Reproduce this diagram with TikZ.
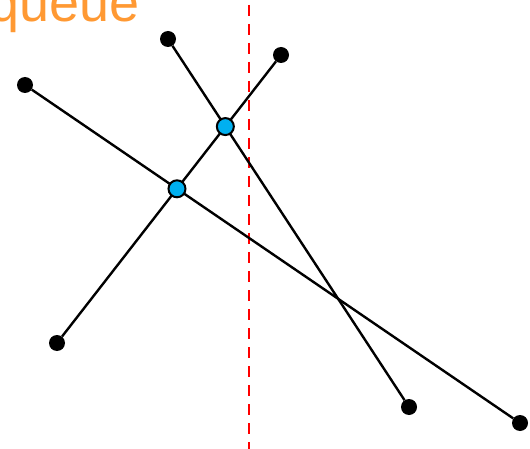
\documentclass[tikz,border=0pt]{standalone}
\usepackage{fontspec}
\setmainfont{Liberation Sans}
\definecolor{queueorange}{RGB}{255,153,51}
\definecolor{crossblue}{RGB}{0,176,240}
\usetikzlibrary{positioning}

\begin{document}
\begin{tikzpicture}[x=1pt, y=-1pt,
    endpt/.style={circle, fill=black, inner sep=0pt, minimum size=16pt},
    crosspt/.style={circle, draw=black, line width=2pt, fill=crossblue,
      inner sep=0pt, minimum size=17pt},
    seg/.style={line width=2.4pt, color=black},
    sweepline/.style={line width=2.8pt, color=red, dash pattern=on 11pt off 8pt}
  ]
    \useasboundingbox (0,0) rectangle (530,449);
    \clip (0,0) rectangle (530,449);

    \node[anchor=base east, inner sep=0pt, text=queueorange,
      font=\fontsize{54}{60}\selectfont] (titre) at (140,22) {queue};

    % ligne de balayage
    \coordinate (haut) at (249,5);
    \coordinate (bas) at (249,449);
    \draw[sweepline] (haut) -- (bas);

    \node[endpt] (a) at (25,85) {};
    \node[endpt] (b) at (168,39) {};
    \node[endpt] (c) at (281,55) {};
    \node[endpt] (d) at (57,343) {};
    \node[endpt] (e) at (409,407) {};
    \node[endpt] (f) at (520,423) {};

    \draw[seg] (a) -- (f);
    \draw[seg] (b) -- (e);
    \draw[seg] (d) -- (c);

    \node[crosspt] (x1) at (intersection of a--f and d--c) {};
    \node[crosspt] (x2) at (intersection of b--e and d--c) {};
  \end{tikzpicture}
\end{document}
